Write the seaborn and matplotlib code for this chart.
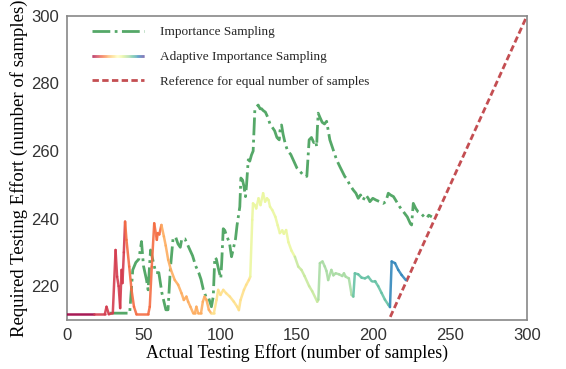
import numpy as np
import matplotlib
matplotlib.use("Agg")
import matplotlib.pyplot as plt
import seaborn as sns
from matplotlib.collections import LineCollection
from matplotlib.legend_handler import HandlerLineCollection
from matplotlib.colors import Normalize

# ---------------- data ----------------
is_x = [28, 41, 43, 45, 47, 48.7, 50, 52, 53, 54.6, 56.5, 58, 60, 62, 64.6, 66, 67.5, 69.3, 71, 72.5,
        74, 75, 77, 79, 80.5, 82, 84, 86, 87.5, 89, 91, 92.5, 94.3, 95.5, 96.5, 97.5, 98.7, 100.4, 101,
        102, 103, 104.5, 106, 107.4, 108.5, 110, 111, 112, 112.8, 113.5, 114.6, 115.5, 116.5, 117.2,
        118.3, 119.3, 120.4, 121.5, 122.6, 123.7, 124.8, 126, 127, 128, 129.5, 131, 132.5, 134, 135.5,
        137, 138.5, 139, 140, 141, 142.5, 144, 146, 148, 150, 152, 154.1, 155.5, 156.5, 157.3, 158,
        159.5, 161, 162.3, 162.9, 163.3, 163.9, 165, 166.5, 168, 169.4, 171.5, 173.7, 175.9, 178,
        181.3, 182.4, 184.5, 186.7, 188.5, 190, 191.5, 193.2, 195, 196.5, 197.6, 199.5, 201.5, 204,
        206.3, 208, 209.6, 211, 213, 215, 217, 219.5, 222, 224, 224.8, 225.9, 227.5, 229, 231, 233,
        234.6, 236, 238]
is_y = [212, 212, 224.8, 227, 228, 233.2, 226, 221.8, 218.9, 230.7, 227, 224, 224, 218, 213, 213, 225,
        234.2, 234.5, 232.5, 231.5, 234, 234, 232, 230.5, 229, 226, 224, 222, 219, 216.5, 216.5, 213.9,
        217, 228.5, 228, 225.5, 222.3, 227, 237, 236.5, 234.5, 233, 228.7, 231, 234, 238, 241, 243.5,
        252, 251.4, 249.5, 246.5, 250, 257.4, 257, 258.8, 260, 272.2, 273.1, 273.6, 272.5, 272.5, 272,
        271.5, 270, 268, 267, 266, 264, 263.3, 266, 267.7, 265, 262, 260, 259, 257, 255, 254, 252.9,
        252.5, 252.5, 258, 263.3, 264, 262.5, 263, 261.3, 266, 271.2, 270, 268.5, 268, 268.8, 263.3,
        260.3, 257.4, 255.4, 252.4, 251.9, 250, 248.5, 247.5, 246, 247, 245.5, 247, 246, 245, 246,
        245.5, 245, 244.5, 245, 247.5, 247, 246.5, 245, 243.5, 242, 240.5, 238.5, 238.1, 244.5, 243,
        242, 241.5, 240.5, 240.1, 241, 240.5]

ais_x = [0, 18, 24.8, 25.9, 27.4, 30, 31.8, 32.8, 33.8, 34.8, 35.7, 36.3, 37.2, 38.0, 38.9, 40.7, 42.2,
         43.8, 45.4, 53.1, 54.1, 55.4, 57.0, 58.7, 59.3, 60.3, 61.7, 63.3, 64.5, 66.1, 67.9, 70.4, 72.6,
         74.8, 76.3, 78.0, 79.1, 80.6, 82.4, 83.5, 84.5, 85.6, 87.5, 88.7, 89.8, 91.1, 92.6, 94.1, 95.9,
         97.6, 98.7, 100.2, 102, 103.9, 106.3, 108.9, 111.1, 112.2, 113.3, 115.5, 117, 118.7, 119.6,
         120.9, 121.4, 122.5, 123.5, 125, 126.3, 128, 129.3, 130.5, 131.5, 132.5, 134, 136, 137.5,
         138.9, 140.5, 141.5, 143, 144.5, 146.5, 148.7, 150.9, 153, 155, 158, 160, 163.3, 164, 165,
         166.7, 168.2, 169.3, 170.4, 172.5, 173.8, 175.3, 177.5, 179.6, 180.7, 181.8, 183.9, 185.7,
         186.8, 187.8, 190, 192.2, 194.4, 196.5, 198.7, 200.9, 203, 205.2, 207.4, 209.6, 210.7, 211.8,
         214, 216.1, 218.3, 221]
ais_y = [211.7, 211.7, 211.7, 213.9, 211.7, 212, 230.7, 222.8, 220, 213.5, 224.8, 220.9, 230, 239.1, 233.7,
         225.8, 218.9, 213.9, 211.7, 211.7, 213.9, 225.8, 238.6, 233.7, 235.7, 235.3, 238.1, 234.7, 232,
         227.8, 224.8, 221.8, 220.4, 217.9, 215.9, 216.9, 215.4, 213.9, 212, 212, 213.9, 212, 212, 215.4,
         216.9, 215.9, 213, 212, 212, 215.9, 218.9, 217.4, 218.9, 217.9, 216.9, 215.4, 213.9, 212.9,
         215.9, 218.9, 220.4, 221.8, 222.8, 239.6, 244.5, 244, 243, 246, 244, 247.5, 245, 246, 245.5,
         243.5, 242.5, 240.5, 238, 235.7, 236.5, 235.5, 236.6, 233, 230.5, 228.7, 225.8, 224.8, 223,
         220, 218.5, 215.4, 216, 226.8, 227.3, 225.8, 224.5, 221.8, 224.8, 223.2, 223.8, 223.5, 223,
         223.8, 222.8, 222.3, 217.4, 216.9, 223.8, 223.5, 222.5, 222.3, 222.8, 221.5, 221.5, 220, 218,
         216, 214.5, 213.8, 227.3, 226.8, 224.8, 223.3, 221.8]

# adaptation stages of the adaptive run (sample count where each stage starts)
stage_start = [0, 18, 38, 61.7, 93, 119.6, 148.7, 164, 186.8, 210.7]
stage_level = [0.0, 0.1, 0.2, 0.3, 0.4, 0.58, 0.65, 0.7, 0.8, 0.9]

ref_x = [0, 300]
ref_y = [0, 300]

labels = ["Importance Sampling", "Adaptive Importance Sampling",
          "Reference for equal number of samples"]
xticks = [0, 50, 100, 150, 200, 250, 300]
yticks = [220, 240, 260, 280, 300]

# ---------------- style ----------------
sns.set_theme(style="white")
plt.rcParams["font.family"] = ["Liberation Sans", "DejaVu Sans"]

pal = sns.color_palette("deep")
green = pal[2]
red = pal[3]
cmap = plt.get_cmap("Spectral")

fig = plt.figure(figsize=(5.66, 3.69), dpi=100)
ax = fig.add_axes([0.118, 0.133, 0.813, 0.824])

sns.lineplot(x=is_x, y=is_y, ax=ax, color=green, linestyle="-.", linewidth=2.0,
             estimator=None, sort=False, zorder=2)

pts = np.column_stack([ais_x, ais_y]).reshape(-1, 1, 2)
segs = np.concatenate([pts[:-1], pts[1:]], axis=1)
seg_stage = np.searchsorted(np.array(stage_start), np.array(ais_x[:-1]), side="right") - 1
seg_colors = [cmap(stage_level[s]) for s in seg_stage]
lc = LineCollection(segs, colors=seg_colors, linewidth=1.8, alpha=0.9, zorder=3,
                    capstyle="round", joinstyle="round")
ax.add_collection(lc)

sns.lineplot(x=ref_x, y=ref_y, ax=ax, color=red, linestyle=(0, (2.3, 1.2)), linewidth=2.0,
             estimator=None, zorder=2)

ax.set_xlim(0, 300)
ax.set_ylim(210, 300)
ax.set_xticks(xticks)
ax.set_yticks(yticks)

for s in ax.spines.values():
    s.set_color("#888888")
    s.set_linewidth(1.2)
ax.tick_params(axis="both", which="major", direction="out", length=4, width=1,
               color="#888888", labelsize=12, labelcolor="#333333", pad=1.5)

ax.set_xlabel("Actual Testing Effort (number of samples)", family="Liberation Serif",
              fontsize=12.8, color="black", labelpad=1)
ax.set_ylabel("Required Testing Effort (number of samples)", family="Liberation Serif",
              fontsize=13.5, color="black", labelpad=2)


class HandlerColorLine(HandlerLineCollection):
    def create_artists(self, legend, orig_handle, xdescent, ydescent, width, height, fontsize, trans):
        n = 60
        xs = np.linspace(0, width, n)
        ys = np.full(n, height / 2.0)
        p = np.column_stack([xs, ys]).reshape(-1, 1, 2)
        sg = np.concatenate([p[:-1], p[1:]], axis=1)
        c = LineCollection(sg, cmap=cmap, transform=trans, linewidth=2.0)
        c.set_array(np.linspace(0, 1, n - 1))
        c.set_norm(Normalize(0, 1))
        return [c]


handles = [ax.lines[0], lc, ax.lines[1]]
leg = ax.legend(handles, labels, loc="upper left", bbox_to_anchor=(0.028, 1.005),
                frameon=False, handlelength=3.95, handletextpad=1.27, labelspacing=0.95,
                prop={"family": "Liberation Serif", "size": 9.5},
                handler_map={LineCollection: HandlerColorLine()})

fig.savefig("out.png", dpi=100)
